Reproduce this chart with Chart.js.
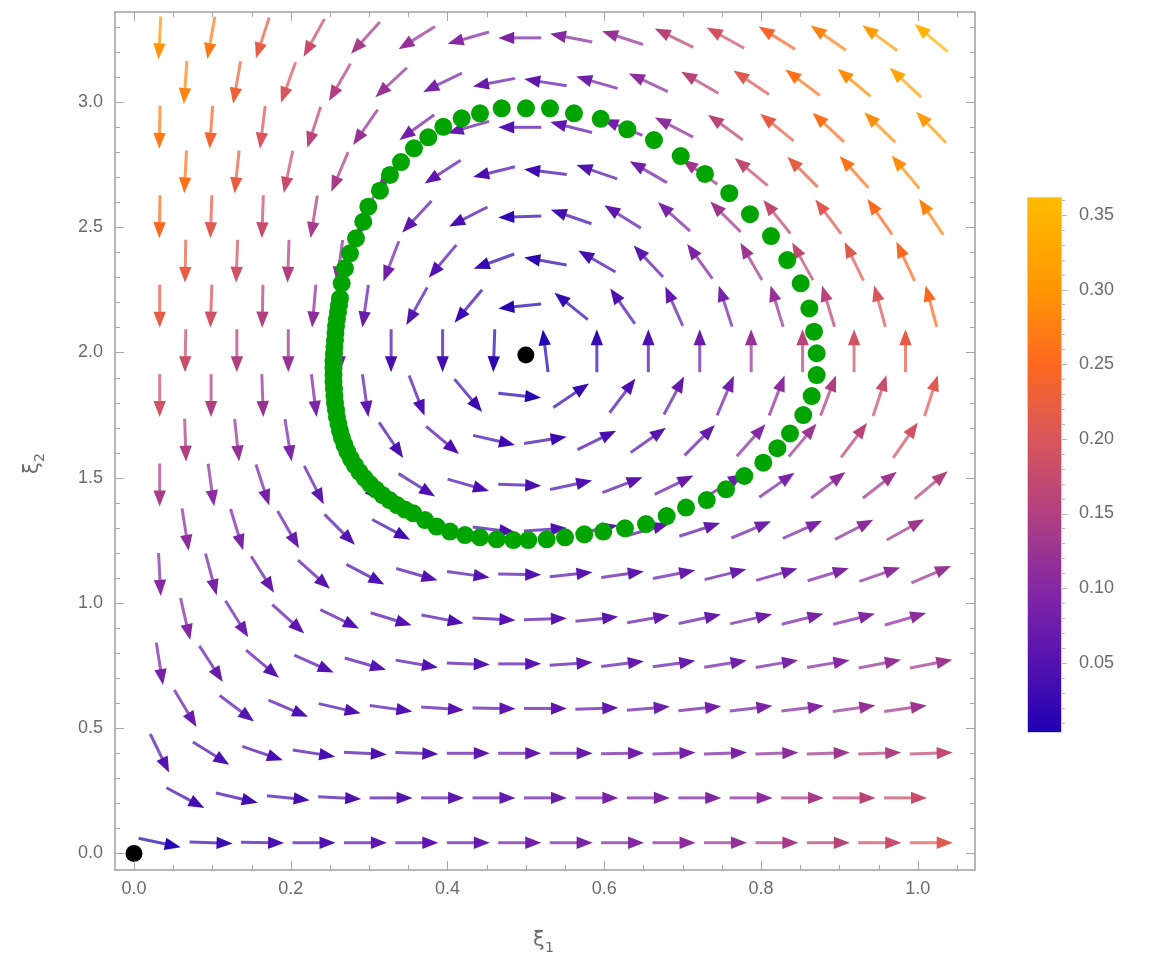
<!DOCTYPE html>
<html>
<head>
<meta charset="utf-8">
<title>Phase portrait</title>
<script src="https://cdn.jsdelivr.net/npm/chart.js"></script>
<style>
  html, body { margin: 0; padding: 0; background: #fff; }
  canvas { display: block; }
</style>
</head>
<body>
<canvas id="phase" width="1161" height="960"></canvas>
<script>
// arrow anchors: hexagonal layout, even rows use xEven, odd rows use xOdd
const xEven = [0.0328, 0.0984, 0.1641, 0.2297, 0.2953, 0.3609, 0.4266, 0.4922,
               0.5578, 0.6234, 0.6891, 0.7547, 0.8203, 0.8859, 0.9516, 1.0172];
const xOdd = [0.0656, 0.1313, 0.1969, 0.2625, 0.3281, 0.3938, 0.4594, 0.5250,
              0.5906, 0.6563, 0.7219, 0.7875, 0.8531, 0.9188, 0.9844];
const yRows = [0.043, 0.222, 0.400, 0.579, 0.757, 0.936, 1.114, 1.293, 1.471, 1.650,
               1.828, 2.007, 2.185, 2.364, 2.542, 2.721, 2.899, 3.078, 3.256];

// arrow direction on screen (degrees, counter-clockwise from +x), one row per yRows entry
const fieldAngle = [
  [-12, -2, -1, 0, 0, 0, 0, 0, 0, 0, 0, 0, 0, 0, 0, 0],
  [-28, -13, -6, -3, 0, 0, 0, 0, 0, 0, 0, 0, 0, 0, 0],
  [-64, -32, -19, -9, -3, -2, 0, 0, 0, 1, 2, 2, 2, 2, 2, 2],
  [-59, -37, -23, -13, -8, -4, -1, 0, 2, 5, 6, 7, 7, 8, 8],
  [-81, -57, -40, -24, -16, -10, -2, 0, 4, 7, 8, 9, 10, 10, 11, 11],
  [-77, -58, -42, -26, -17, -11, -3, 2, 6, 10, 12, 13, 14, 14, 16],
  [-87, -75, -58, -42, -28, -16, -8, -1, 6, 8, 11, 14, 16, 17, 19, 23],
  [-81, -73, -60, -45, -28, -18, -7, 4, 12, 16, 18, 23, 24, 27, 29],
  [-90, -82, -72, -63, -47, -32, -16, -2, 12, 21, 26, 31, 35, 37, 38, 40],
  [-88, -84, -81, -70, -56, -40, -13, 9, 26, 35, 45, 48, 50, 53, 55],
  [-90, -90, -88, -83, -82, -69, -50, -6, 34, 53, 62, 67, 69, 69, 72, 72],
  [-91, -90, -90, -90, -90, -90, -92, 97, 90, 90, 90, 90, 90, 90, 90],
  [-90, -92, -91, -95, -98, -119, -130, -174, 141, 125, 114, 108, 107, 107, 105, 105],
  [-91, -92, -92, -98, -111, -130, -160, 170, 150, 133, 126, 120, 119, 116, 115],
  [-91, -92, -92, -99, -112, -133, -153, -178, 161, 148, 138, 135, 129, 127, 125, 124],
  [-93, -96, -102, -113, -128, -147, -166, 173, 161, 150, 145, 140, 135, 132, 130],
  [-91, -94, -97, -108, -125, -144, -164, 180, 166, 158, 153, 144, 141, 137, 136, 134],
  [-94, -100, -110, -120, -137, -154, -169, 171, 164, 155, 150, 146, 143, 140, 137],
  [-93, -100, -108, -119, -132, -148, -164, 180, 169, 162, 154, 151, 148, 145, 144, 140]
];

// field magnitude at each anchor (drives the arrow colour)
const fieldSpeed = [
  [0.01, 0.03, 0.04, 0.05, 0.06, 0.06, 0.07, 0.08, 0.09, 0.10, 0.11, 0.12, 0.14, 0.16, 0.18, 0.21],
  [0.035, 0.035, 0.04, 0.045, 0.05, 0.06, 0.065, 0.075, 0.085, 0.09, 0.095, 0.11, 0.14, 0.16, 0.18],
  [0.05, 0.045, 0.04, 0.04, 0.045, 0.05, 0.06, 0.065, 0.07, 0.08, 0.085, 0.09, 0.11, 0.13, 0.15, 0.17],
  [0.07, 0.055, 0.045, 0.045, 0.05, 0.055, 0.06, 0.06, 0.065, 0.075, 0.08, 0.09, 0.10, 0.12, 0.13],
  [0.085, 0.07, 0.055, 0.05, 0.05, 0.05, 0.05, 0.055, 0.06, 0.065, 0.07, 0.08, 0.09, 0.10, 0.12, 0.13],
  [0.10, 0.075, 0.06, 0.05, 0.05, 0.045, 0.05, 0.055, 0.06, 0.065, 0.07, 0.08, 0.09, 0.10, 0.11],
  [0.10, 0.085, 0.07, 0.055, 0.045, 0.05, 0.05, 0.05, 0.055, 0.06, 0.07, 0.07, 0.08, 0.095, 0.11, 0.125],
  [0.11, 0.09, 0.07, 0.05, 0.035, 0.04, 0.04, 0.045, 0.05, 0.06, 0.065, 0.08, 0.09, 0.11, 0.13],
  [0.14, 0.11, 0.085, 0.06, 0.05, 0.045, 0.04, 0.04, 0.045, 0.055, 0.07, 0.075, 0.09, 0.11, 0.13, 0.155],
  [0.15, 0.12, 0.09, 0.06, 0.04, 0.045, 0.03, 0.03, 0.04, 0.055, 0.07, 0.10, 0.13, 0.16, 0.19],
  [0.19, 0.15, 0.12, 0.09, 0.06, 0.045, 0.03, 0.01, 0.025, 0.045, 0.065, 0.08, 0.11, 0.15, 0.18, 0.21],
  [0.18, 0.15, 0.12, 0.08, 0.04, 0.035, 0.015, 0.01, 0.025, 0.045, 0.075, 0.12, 0.16, 0.19, 0.22],
  [0.22, 0.19, 0.15, 0.11, 0.07, 0.05, 0.03, 0.01, 0.025, 0.045, 0.065, 0.085, 0.12, 0.16, 0.20, 0.25],
  [0.22, 0.19, 0.15, 0.11, 0.08, 0.05, 0.025, 0.015, 0.035, 0.06, 0.09, 0.13, 0.17, 0.21, 0.25],
  [0.25, 0.21, 0.18, 0.14, 0.10, 0.06, 0.04, 0.02, 0.035, 0.06, 0.09, 0.13, 0.17, 0.21, 0.25, 0.28],
  [0.26, 0.22, 0.18, 0.14, 0.10, 0.06, 0.04, 0.03, 0.05, 0.08, 0.13, 0.17, 0.22, 0.26, 0.29],
  [0.27, 0.24, 0.20, 0.16, 0.12, 0.08, 0.07, 0.05, 0.06, 0.08, 0.11, 0.16, 0.22, 0.26, 0.29, 0.31],
  [0.28, 0.23, 0.20, 0.15, 0.12, 0.09, 0.07, 0.06, 0.08, 0.11, 0.16, 0.21, 0.26, 0.29, 0.32],
  [0.30, 0.27, 0.22, 0.18, 0.14, 0.12, 0.10, 0.09, 0.10, 0.12, 0.16, 0.19, 0.24, 0.28, 0.31, 0.35]
];

// sampled trajectory (green dots), counter-clockwise from the lower right
const orbitX = [0.7044, 0.7308, 0.7554, 0.7788, 0.8030, 0.8209, 0.8371, 0.8540, 0.8647, 0.8711,
  0.8711, 0.8677, 0.8617, 0.8507, 0.8336, 0.8128, 0.7860, 0.7596, 0.7286, 0.6976,
  0.6635, 0.6295, 0.5955, 0.5614, 0.5308, 0.5002, 0.4692, 0.4415, 0.4181, 0.3947,
  0.3755, 0.3573, 0.3407, 0.3267, 0.3139, 0.2990, 0.2926, 0.2833, 0.2756, 0.2692,
  0.2650, 0.2629, 0.2616, 0.2603, 0.2590, 0.2578, 0.2571, 0.2565, 0.2558, 0.2552,
  0.2546, 0.2546, 0.2546, 0.2546, 0.2552, 0.2558, 0.2565, 0.2578, 0.2590, 0.2609,
  0.2629, 0.2654, 0.2686, 0.2724, 0.2769, 0.2820, 0.2877, 0.2941, 0.3011, 0.3088,
  0.3171, 0.3260, 0.3356, 0.3458, 0.3564, 0.3713, 0.3862, 0.4032, 0.4224, 0.4415,
  0.4628, 0.4840, 0.5031, 0.5266, 0.5500, 0.5746, 0.5988, 0.6265, 0.6533, 0.6797];
const orbitY = [1.381, 1.411, 1.454, 1.507, 1.560, 1.618, 1.677, 1.750, 1.826, 1.910,
  1.997, 2.083, 2.176, 2.276, 2.369, 2.465, 2.552, 2.636, 2.713, 2.784,
  2.848, 2.891, 2.933, 2.955, 2.975, 2.975, 2.975, 2.955, 2.935, 2.901,
  2.859, 2.815, 2.760, 2.709, 2.646, 2.582, 2.522, 2.456, 2.396, 2.336,
  2.276, 2.216, 2.190, 2.162, 2.134, 2.106, 2.078, 2.050, 2.022, 1.994,
  1.966, 1.938, 1.910, 1.882, 1.854, 1.826, 1.798, 1.770, 1.743, 1.715,
  1.687, 1.659, 1.631, 1.603, 1.575, 1.549, 1.523, 1.499, 1.475, 1.453,
  1.431, 1.411, 1.391, 1.373, 1.358, 1.331, 1.305, 1.285, 1.271, 1.262,
  1.254, 1.251, 1.251, 1.254, 1.262, 1.274, 1.285, 1.298, 1.315, 1.347];

// equilibria
const fixedX = [0, 0.5];
const fixedY = [0, 1.99];

const xTicks = [0, 0.2, 0.4, 0.6, 0.8, 1.0];
const xMinor = [0.05, 0.1, 0.15, 0.25, 0.3, 0.35, 0.45, 0.5, 0.55, 0.65, 0.7, 0.75, 0.85, 0.9, 0.95, 1.05];
const yTicks = [0, 0.5, 1.0, 1.5, 2.0, 2.5, 3.0];
const yMinor = [0.1, 0.2, 0.3, 0.4, 0.6, 0.7, 0.8, 0.9, 1.1, 1.2, 1.3, 1.4, 1.6, 1.7, 1.8, 1.9,
                2.1, 2.2, 2.3, 2.4, 2.6, 2.7, 2.8, 2.9, 3.1, 3.2, 3.3];
const barTicks = [0.05, 0.10, 0.15, 0.20, 0.25, 0.30, 0.35];
const barMin = 0.003, barMax = 0.362;

// colour ramp for the magnitude legend
const colorStops = [
  [0.003, [30, 0, 178]], [0.05, [84, 18, 176]], [0.10, [132, 40, 164]],
  [0.15, [176, 64, 128]], [0.20, [216, 86, 92]], [0.25, [252, 104, 32]],
  [0.30, [255, 150, 4]], [0.362, [255, 188, 0]]
];

function speedColor(v) {
  const t = Math.max(barMin, Math.min(barMax, v));
  for (let j = 1; j < colorStops.length; j++) {
    const [v0, c0] = colorStops[j - 1];
    const [v1, c1] = colorStops[j];
    if (t <= v1) {
      const f = (t - v0) / (v1 - v0);
      const c = c0.map((c, n) => Math.round(c + (c1[n] - c) * f));
      return `rgb(${c[0]},${c[1]},${c[2]})`;
    }
  }
  const c = colorStops[colorStops.length - 1][1];
  return `rgb(${c[0]},${c[1]},${c[2]})`;
}

const labelFont = '18px "Liberation Sans", Arial, sans-serif';
const textGray = '#6b6b6b';
const frameGray = '#a6a6a6';

function drawArrow(ctx, cx, cy, deg, color) {
  const len = 43, headLen = 16, headHalf = 6.2;
  const a = deg * Math.PI / 180;
  const dx = Math.cos(a), dy = -Math.sin(a);
  const tx = cx - dx * len / 2, ty = cy - dy * len / 2;
  const hx = cx + dx * len / 2, hy = cy + dy * len / 2;
  const bx = hx - dx * headLen, by = hy - dy * headLen;
  ctx.strokeStyle = color;
  ctx.fillStyle = color;
  ctx.globalAlpha = 0.72;
  ctx.lineWidth = 3;
  ctx.beginPath();
  ctx.moveTo(tx, ty);
  ctx.lineTo(bx + dx * 3, by + dy * 3);
  ctx.stroke();
  ctx.globalAlpha = 1;
  ctx.beginPath();
  ctx.moveTo(hx, hy);
  ctx.lineTo(bx - dy * headHalf, by + dx * headHalf);
  ctx.lineTo(bx + dy * headHalf, by - dx * headHalf);
  ctx.closePath();
  ctx.fill();
}

// vector field, drawn under the trajectory
const arrowField = {
  id: 'arrowField',
  beforeDatasetsDraw(chart) {
    const { ctx, scales: { x, y } } = chart;
    ctx.save();
    yRows.forEach((yv, k) => {
      const xs = k % 2 === 0 ? xEven : xOdd;
      xs.forEach((xv, i) => {
        drawArrow(ctx, x.getPixelForValue(xv), y.getPixelForValue(yv),
          fieldAngle[k][i], speedColor(fieldSpeed[k][i]));
      });
    });
    ctx.restore();
  }
};

// Mathematica-style frame with inward ticks on all four sides
const frameTicks = {
  id: 'frameTicks',
  afterDraw(chart) {
    const { ctx, chartArea: a, scales: { x, y } } = chart;
    ctx.save();
    ctx.strokeStyle = frameGray;
    ctx.lineWidth = 1;
    ctx.beginPath();
    const xt = (v, l) => {
      const p = Math.round(x.getPixelForValue(v)) + 0.5;
      ctx.moveTo(p, a.bottom); ctx.lineTo(p, a.bottom - l);
      ctx.moveTo(p, a.top); ctx.lineTo(p, a.top + l);
    };
    const yt = (v, l) => {
      const p = Math.round(y.getPixelForValue(v)) + 0.5;
      ctx.moveTo(a.left, p); ctx.lineTo(a.left + l, p);
      ctx.moveTo(a.right, p); ctx.lineTo(a.right - l, p);
    };
    xTicks.forEach(v => xt(v, 9));
    xMinor.forEach(v => xt(v, 5));
    yTicks.forEach(v => yt(v, 9));
    yMinor.forEach(v => yt(v, 5));
    ctx.stroke();
    ctx.lineWidth = 1.6;
    ctx.strokeRect(a.left, a.top, a.right - a.left, a.bottom - a.top);

    // axis titles with subscripts
    ctx.fillStyle = textGray;
    ctx.textBaseline = 'alphabetic';
    ctx.font = '21px "DejaVu Sans", sans-serif';
    ctx.fillText('ξ', 533, 946);
    ctx.font = '14px "DejaVu Sans", sans-serif';
    ctx.fillText('1', 545, 952);
    ctx.save();
    ctx.translate(38, 474);
    ctx.rotate(-Math.PI / 2);
    ctx.font = '21px "DejaVu Sans", sans-serif';
    ctx.fillText('ξ', 0, 0);
    ctx.font = '14px "DejaVu Sans", sans-serif';
    ctx.fillText('2', 12, 6);
    ctx.restore();
    ctx.restore();
  }
};

// magnitude legend on the right
const colorBar = {
  id: 'colorBar',
  afterDraw(chart) {
    const { ctx } = chart;
    const left = 1027, right = 1062, top = 197, bottom = 733;
    const py = v => bottom - (v - barMin) / (barMax - barMin) * (bottom - top);
    ctx.save();
    const g = ctx.createLinearGradient(0, bottom, 0, top);
    colorStops.forEach(([v, c]) => {
      g.addColorStop((v - barMin) / (barMax - barMin), `rgb(${c[0]},${c[1]},${c[2]})`);
    });
    ctx.fillStyle = g;
    ctx.fillRect(left, top, right - left, bottom - top);
    ctx.strokeStyle = '#cfcfcf';
    ctx.lineWidth = 1;
    ctx.strokeRect(left + 0.5, top + 0.5, right - left - 1, bottom - top - 1);
    ctx.strokeStyle = '#b5b5b5';
    ctx.beginPath();
    for (let n = 1; n <= 36; n++) {
      const v = n / 100;
      const p = Math.round(py(v)) + 0.5;
      const major = n % 5 === 0;
      ctx.moveTo(right, p);
      ctx.lineTo(right + (major ? 5 : 3), p);
    }
    ctx.stroke();
    ctx.fillStyle = textGray;
    ctx.font = labelFont;
    ctx.textAlign = 'left';
    ctx.textBaseline = 'middle';
    barTicks.forEach(v => ctx.fillText(v.toFixed(2), 1079, py(v)));
    ctx.restore();
  }
};

new Chart(document.getElementById('phase'), {
  type: 'scatter',
  data: {
    datasets: [
      {
        label: 'trajectory',
        data: orbitX.map((v, i) => ({ x: v, y: orbitY[i] })),
        pointRadius: 9,
        pointBackgroundColor: '#00a400',
        pointBorderWidth: 0
      },
      {
        label: 'equilibria',
        data: fixedX.map((v, i) => ({ x: v, y: fixedY[i] })),
        pointRadius: 8.5,
        pointBackgroundColor: '#000',
        pointBorderWidth: 0
      }
    ]
  },
  options: {
    responsive: false,
    animation: false,
    layout: { padding: { left: 0, top: 12, right: 186, bottom: 0 } },
    plugins: { legend: { display: false }, tooltip: { enabled: false } },
    scales: {
      x: {
        type: 'linear',
        min: -0.0242,
        max: 1.0731,
        grid: { display: false, drawTicks: false },
        border: { display: false },
        afterBuildTicks: s => { s.ticks = xTicks.map(v => ({ value: v })); },
        afterFit: s => { s.height = 90; s.paddingLeft = 0; s.paddingRight = 0; },
        ticks: {
          padding: 8,
          color: textGray,
          font: { size: 18, family: '"Liberation Sans", Arial, sans-serif' },
          maxRotation: 0,
          callback: v => v.toFixed(1)
        }
      },
      y: {
        type: 'linear',
        min: -0.0659,
        max: 3.3593,
        grid: { display: false, drawTicks: false },
        border: { display: false },
        afterBuildTicks: s => { s.ticks = yTicks.map(v => ({ value: v })); },
        afterFit: s => { s.width = 115; s.paddingTop = 0; s.paddingBottom = 0; },
        ticks: {
          padding: 12,
          color: textGray,
          font: { size: 18, family: '"Liberation Sans", Arial, sans-serif' },
          callback: v => v.toFixed(1)
        }
      }
    }
  },
  plugins: [arrowField, frameTicks, colorBar]
});
</script>
</body>
</html>
